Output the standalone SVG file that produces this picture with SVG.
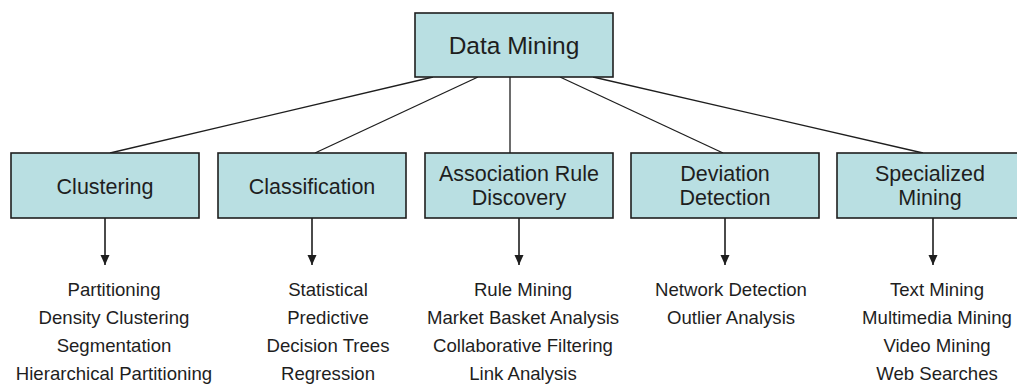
<svg xmlns="http://www.w3.org/2000/svg" width="1017" height="385" viewBox="0 0 1017 385">
  <style>
    .box { fill: #b9dfe2; stroke: #1e1e1e; stroke-width: 1.6; }
    .lbl { font-family: "Liberation Sans", Arial, sans-serif; font-size: 21.5px; fill: #1e1e1e; text-anchor: middle; }
    .top { font-size: 24.5px; }
    .item { font-family: "Liberation Sans", Arial, sans-serif; font-size: 18.6px; fill: #1e1e1e; text-anchor: middle; }
    .link { stroke: #1e1e1e; stroke-width: 1.3; fill: none; }
    .down { stroke: #1e1e1e; stroke-width: 1.6; fill: none; marker-end: url(#head); }
  </style>
  <defs>
    <marker id="head" viewBox="0 0 10 10" refX="10" refY="5" markerWidth="10" markerHeight="10" markerUnits="userSpaceOnUse" orient="auto">
      <path d="M0,0.5 L10,5 L0,9.5 Z" fill="#1e1e1e"/>
    </marker>
  </defs>

  <!-- connectors -->
  <g id="connectors">
    <line class="link" x1="433" y1="77" x2="110" y2="153"/>
    <line class="link" x1="478" y1="77" x2="315" y2="153"/>
    <line class="link" x1="510" y1="77" x2="510" y2="153"/>
    <line class="link" x1="560" y1="77" x2="723" y2="153"/>
    <line class="link" x1="593" y1="77" x2="923" y2="153"/>
    <line class="down" x1="105" y1="218" x2="105" y2="265"/>
    <line class="down" x1="312" y1="218" x2="312" y2="265"/>
    <line class="down" x1="519" y1="218" x2="519" y2="265"/>
    <line class="down" x1="725" y1="218" x2="725" y2="265"/>
    <line class="down" x1="933" y1="218" x2="933" y2="265"/>
  </g>

  <!-- root -->
  <g id="data-mining">
    <rect class="box" x="415" y="13" width="198" height="64"/>
    <text class="lbl top" x="514" y="54">Data Mining</text>
  </g>

  <!-- categories -->
  <g id="clustering">
    <rect class="box" x="11" y="153" width="188" height="65"/>
    <text class="lbl" x="105" y="194">Clustering</text>
  </g>
  <g id="classification">
    <rect class="box" x="218" y="153" width="188" height="65"/>
    <text class="lbl" x="312" y="194">Classification</text>
  </g>
  <g id="association">
    <rect class="box" x="425" y="153" width="188" height="65"/>
    <text class="lbl" x="519" y="181">Association Rule</text>
    <text class="lbl" x="519" y="205">Discovery</text>
  </g>
  <g id="deviation">
    <rect class="box" x="631" y="153" width="188" height="65"/>
    <text class="lbl" x="725" y="181">Deviation</text>
    <text class="lbl" x="725" y="205">Detection</text>
  </g>
  <g id="specialized">
    <rect class="box" x="837" y="153" width="188" height="65"/>
    <text class="lbl" x="930" y="181">Specialized</text>
    <text class="lbl" x="930" y="205">Mining</text>
  </g>

  <!-- technique lists -->
  <g id="clustering-items">
    <text class="item" x="114" y="296">Partitioning</text>
    <text class="item" x="114" y="324">Density Clustering</text>
    <text class="item" x="114" y="352">Segmentation</text>
    <text class="item" x="114" y="380">Hierarchical Partitioning</text>
  </g>
  <g id="classification-items">
    <text class="item" x="328" y="296">Statistical</text>
    <text class="item" x="328" y="324">Predictive</text>
    <text class="item" x="328" y="352">Decision Trees</text>
    <text class="item" x="328" y="380">Regression</text>
  </g>
  <g id="association-items">
    <text class="item" x="523" y="296">Rule Mining</text>
    <text class="item" x="523" y="324">Market Basket Analysis</text>
    <text class="item" x="523" y="352">Collaborative Filtering</text>
    <text class="item" x="523" y="380">Link Analysis</text>
  </g>
  <g id="deviation-items">
    <text class="item" x="731" y="296">Network Detection</text>
    <text class="item" x="731" y="324">Outlier Analysis</text>
  </g>
  <g id="specialized-items">
    <text class="item" x="937" y="296">Text Mining</text>
    <text class="item" x="937" y="324">Multimedia Mining</text>
    <text class="item" x="937" y="352">Video Mining</text>
    <text class="item" x="937" y="380">Web Searches</text>
  </g>
</svg>
